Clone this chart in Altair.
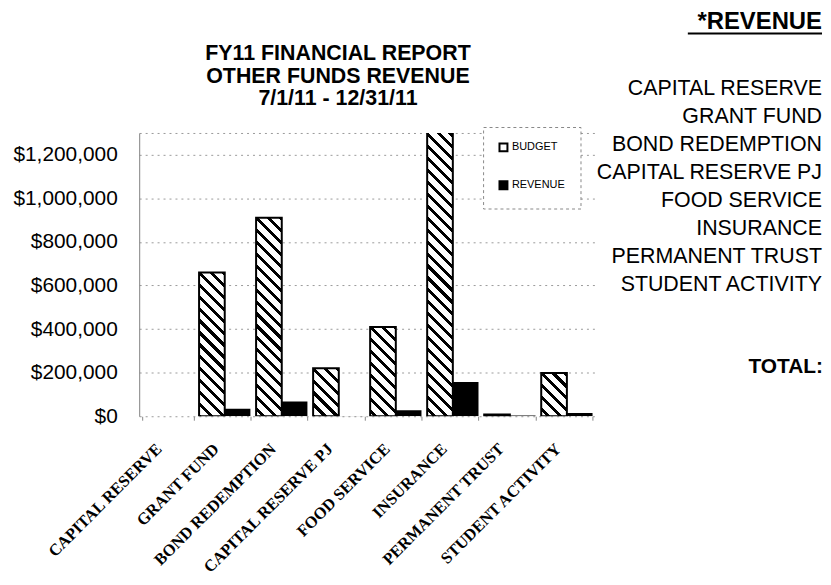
import math
import altair as alt

categories = ["CAPITAL RESERVE", "GRANT FUND", "BOND REDEMPTION", "CAPITAL RESERVE PJ",
              "FOOD SERVICE", "INSURANCE", "PERMANENT TRUST", "STUDENT ACTIVITY"]
budget = [0, 660000, 911000, 220000, 410000, 1350000, 8000, 198000]
revenue = [0, 34000, 68000, 1500, 27000, 157000, 3000, 15000]
series = ["BUDGET", "REVENUE"]
title_lines = ["FY11 FINANCIAL REPORT", "OTHER FUNDS REVENUE", "7/1/11 -  12/31/11"]
y_ticks = [0, 200000, 400000, 600000, 800000, 1000000, 1200000, 1300000]

W, H = 459, 285
Y_MAX = 1300000
PAD_INNER, PAD_OUTER = 0.1, 0.05
SANS = "Liberation Sans"
SERIF = "Liberation Serif"

# bar size in pixels (derived from the scales) -> used to build a hatch gradient
step = W / (len(categories) - PAD_INNER + 2 * PAD_OUTER)
bar_w = step * (1 - PAD_INNER) / 2


def hatch(value, period=12.0, dark=4.2):
    w = bar_w
    h = max(value * H / Y_MAX, 0.5)
    L = w + h
    k = L / (w * w + h * h)
    stops = [{"offset": 0, "color": "white"}]
    n0 = math.floor((-h - dark) / period)
    n1 = math.ceil((w + dark) / period)
    for n in range(n0, n1 + 1):
        c = n * period
        a = max(c - dark / 2, -h)
        b = min(c + dark / 2, w)
        if b <= a:
            continue
        ta = round((a + h) / L, 5)
        tb = round((b + h) / L, 5)
        stops += [{"offset": ta, "color": "white"}, {"offset": ta, "color": "black"},
                  {"offset": tb, "color": "black"}, {"offset": tb, "color": "white"}]
    stops.append({"offset": 1, "color": "white"})
    return {"gradient": "linear", "x1": 0, "y1": 1, "x2": k * w, "y2": 1 - k * h, "stops": stops}


budget_rows = [{"cat": c, "series": "BUDGET", "value": v, "grad": hatch(v)}
               for c, v in zip(categories, budget) if v > 0]
revenue_rows = [{"cat": c, "series": "REVENUE", "value": v}
                for c, v in zip(categories, revenue)]

x_enc = alt.X("cat:N", sort=categories,
              scale=alt.Scale(domain=categories, paddingInner=PAD_INNER, paddingOuter=PAD_OUTER),
              axis=alt.Axis(title=None, labelAngle=-45, labelAlign="right", labelBaseline="middle",
                            labelFont=SERIF, labelFontWeight="bold", labelFontSize=16.5,
                            labelColor="black", labelPadding=26, labelOffset=-9,
                            ticks=True, tickSize=4, tickColor="#888", tickBand="extent",
                            domain=False, grid=False))
y_enc = alt.Y("value:Q", scale=alt.Scale(domain=[0, Y_MAX], nice=False, zero=True),
              axis=alt.Axis(title=None, values=y_ticks, format="$,.0f",
                            labelExpr="datum.value >= 1300000 ? '' : datum.label",
                            labelFont=SANS, labelFontSize=21, labelColor="black",
                            labelPadding=22, ticks=False, tickSize=0,
                            domain=True, domainColor="#808080",
                            grid=True, gridColor="#9a9a9a", gridDash=[2, 4], gridWidth=1))
xo_enc = alt.XOffset("series:N", scale=alt.Scale(domain=series, paddingInner=0, paddingOuter=0))

budget_layer = alt.Chart(alt.Data(values=budget_rows)).mark_bar(
    stroke="black", strokeWidth=2, clip=True
).encode(
    x=x_enc, y=y_enc, xOffset=xo_enc,
    fill=alt.Fill("grad:N", scale=None, legend=None),
)

revenue_layer = alt.Chart(alt.Data(values=revenue_rows)).mark_bar(clip=True).encode(
    x=x_enc, y=y_enc, xOffset=xo_enc,
    color=alt.Color("series:N", scale=alt.Scale(domain=series, range=["white", "black"]),
                    legend=alt.Legend(title=None, orient="none", legendX=346, legendY=-6,
                                      fillColor="white", strokeColor="#888", padding=15,
                                      rowPadding=21, symbolType="square", symbolSize=64,
                                      symbolStrokeColor="black", symbolStrokeWidth=2,
                                      labelFont=SANS, labelFontSize=11, labelColor="black",
                                      labelOffset=3)),
)

one = alt.Data(values=[{}])

title_layer = alt.Chart(one).mark_text(
    text=title_lines, font=SANS, fontWeight="bold", fontSize=21.5, lineHeight=22.3,
    align="center", baseline="alphabetic", color="black"
).encode(x=alt.value(200), y=alt.value(-73))

rev_head = alt.Chart(one).mark_text(
    text="*REVENUE", font=SANS, fontWeight="bold", fontSize=24,
    align="right", baseline="alphabetic", color="black"
).encode(x=alt.value(687), y=alt.value(-105))

rev_underline = alt.Chart(one).mark_rule(color="black", strokeWidth=2).encode(
    x=alt.value(552), x2=alt.value(687), y=alt.value(-100))

side_list = alt.Chart(one).mark_text(
    text=categories, font=SANS, fontSize=21.5, lineHeight=28.2,
    align="right", baseline="alphabetic", color="black"
).encode(x=alt.value(687), y=alt.value(-38))

total_text = alt.Chart(one).mark_text(
    text="TOTAL:", font=SANS, fontWeight="bold", fontSize=21,
    align="right", baseline="alphabetic", color="black"
).encode(x=alt.value(688), y=alt.value(241))

chart = alt.layer(
    budget_layer, revenue_layer, title_layer, rev_head, rev_underline, side_list, total_text
).properties(
    width=W, height=H,
    padding={"left": 132, "top": 124, "right": 229, "bottom": 160},
    autosize=alt.AutoSizeParams(type="none"),
    background="white",
).configure_view(stroke=None).configure_legend(strokeDash=[3, 3])

chart.save("out.html", embed_options={"renderer": "svg", "actions": False})
